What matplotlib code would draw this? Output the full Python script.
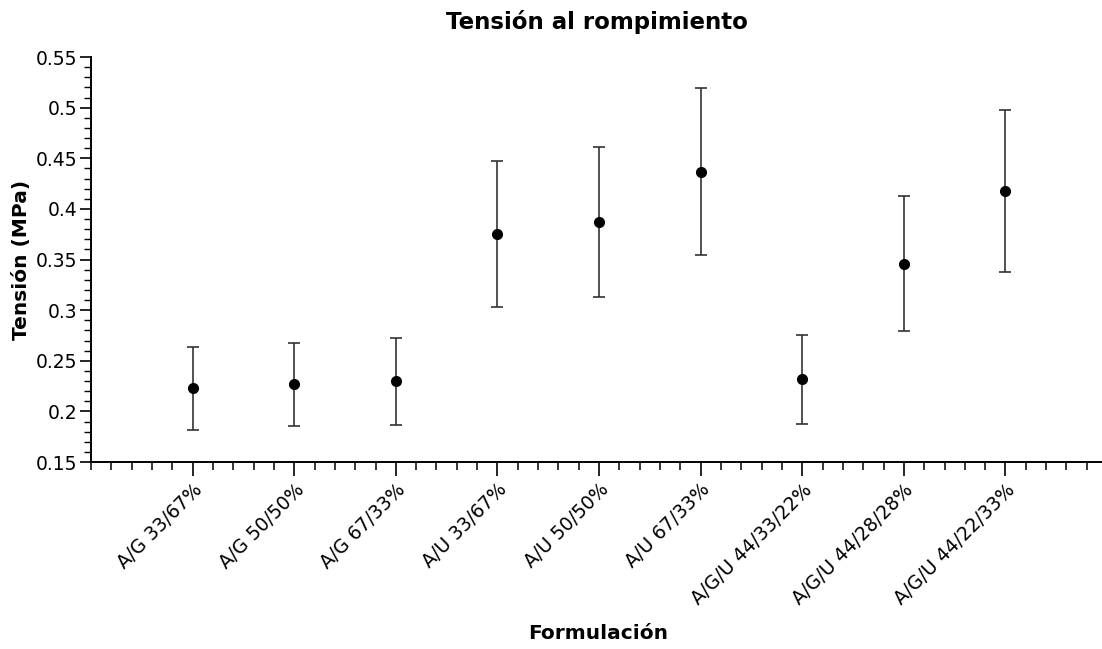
import numpy as np
import matplotlib
matplotlib.use('Agg')
import matplotlib.pyplot as plt
from matplotlib.ticker import MultipleLocator

formulaciones = ['A/G 33/67%', 'A/G 50/50%', 'A/G 67/33%', 'A/U 33/67%', 'A/U 50/50%',
                 'A/U 67/33%', 'A/G/U 44/33/22%', 'A/G/U 44/28/28%', 'A/G/U 44/22/33%']
tension = [0.223, 0.227, 0.230, 0.375, 0.387, 0.437, 0.232, 0.346, 0.418]
error = [0.041, 0.041, 0.043, 0.072, 0.074, 0.082, 0.044, 0.067, 0.080]

plt.rcParams['font.family'] = ['DejaVu Sans']

fig = plt.figure(figsize=(11.02, 6.49), dpi=100)
ax = fig.add_axes([0.0826, 0.288, 0.9174, 0.624])

x = np.arange(1, len(formulaciones) + 1)
ax.errorbar(x, tension, yerr=error, fmt='o', color='black', ecolor='#333333',
            elinewidth=1.2, capsize=4.5, capthick=1.2, markersize=7)

ax.set_xlim(0, 9.95)
ax.set_ylim(0.15, 0.55)
ax.set_xticks(x)
ax.set_xticklabels(formulaciones, rotation=45, ha='right', rotation_mode='anchor', fontsize=13.5)
ax.xaxis.set_minor_locator(MultipleLocator(0.2))
ax.yaxis.set_minor_locator(MultipleLocator(0.01))
ax.set_yticks(np.arange(0.15, 0.551, 0.05))
ax.set_yticklabels(['0.15', '0.2', '0.25', '0.3', '0.35', '0.4', '0.45', '0.5', '0.55'], fontsize=13.5)

ax.tick_params(axis='x', which='major', length=10, width=1.2, direction='out', pad=3)
ax.tick_params(axis='x', which='minor', length=6, width=1.1, direction='out')
ax.tick_params(axis='y', which='major', length=8, width=1.2, direction='out', pad=2)
ax.tick_params(axis='y', which='minor', length=5, width=1.0, direction='out')

for s in ['top', 'right']:
    ax.spines[s].set_visible(False)
for s in ['left', 'bottom']:
    ax.spines[s].set_linewidth(1.4)

ax.set_title('Tensión al rompimiento', fontsize=16.5, fontweight='bold', pad=20)
ax.set_ylabel('Tensión (MPa)', fontsize=14.5, fontweight='bold', labelpad=3)
fig.text(0.543, 0.01, 'Formulación', ha='center', va='bottom', fontsize=14.5, fontweight='bold')

fig.savefig('out.png', dpi=100)
